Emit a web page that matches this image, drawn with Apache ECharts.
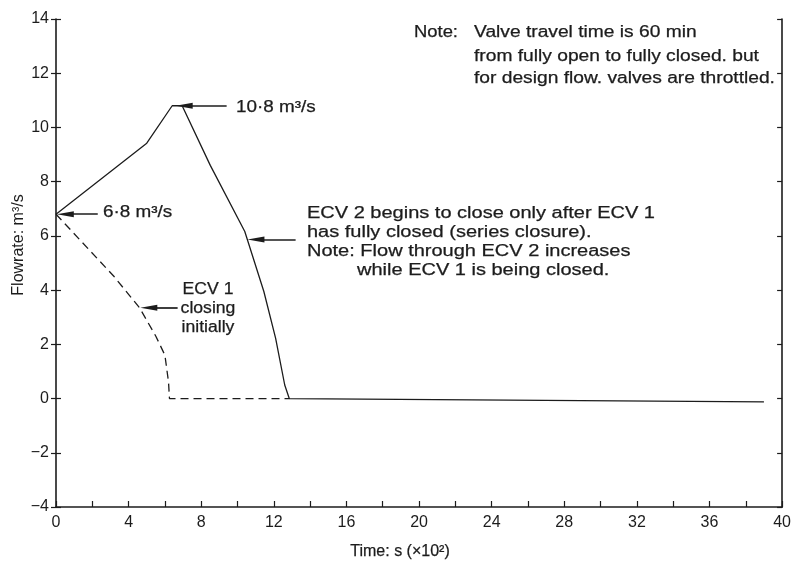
<!DOCTYPE html>
<html>
<head>
<meta charset="utf-8">
<script src="https://cdn.jsdelivr.net/npm/echarts@6/dist/echarts.min.js"></script>
<style>
  html, body { margin: 0; padding: 0; background: #fff; }
  #chart { width: 794px; height: 564px; }
</style>
</head>
<body>
<div id="chart"></div>
<script>
// Flow through ECV 2 (solid) while ECV 1 closes first, then ECV 2 closes
const ecv2Time = [0, 5.0, 6.4, 6.95, 8.5, 10.4, 11.45, 12.1, 12.6, 12.85, 39.0];
const ecv2Flow = [6.8, 9.42, 10.8, 10.8, 8.6, 6.16, 3.95, 2.22, 0.5, 0, -0.12];

// Flow through ECV 1 (dashed) during its closure
const ecv1Time = [0, 3.2, 4.6, 5.5, 6.0, 6.2, 6.25, 12.85];
const ecv1Flow = [6.8, 4.5, 3.35, 2.3, 1.6, 0.6, 0, 0];

// Axis ranges and tick steps
const timeTicks = { min: 0, max: 40, step: 2, labelStep: 4 };
const flowTicks = { min: -4, max: 14, step: 2 };

// Arrow callouts: [tail time, tail flow, tip time, tip flow]
const arrowStart = [2.3, 6.8, 0.05, 6.8];
const arrowPeak = [9.4, 10.8, 6.6, 10.8];
const arrowEcv2 = [13.2, 5.87, 10.55, 5.87];
const arrowEcv1 = [6.7, 3.35, 4.65, 3.35];

const FONT = '"Liberation Sans", Arial, Helvetica, sans-serif';
const INK = '#1c1c1c';

const GRID = { left: 56, right: 4, top: 19, bottom: 57 };
const HEAD_LEN = 17;
// time units covered by half an arrowhead, so the head's point lands on the tip
const halfHead = (HEAD_LEN / 2) * (timeTicks.max - timeTicks.min) / (794 - GRID.left - GRID.right);

const zip = (xs, ys) => xs.map((x, i) => [x, ys[i]]);
const arrow = a => {
  const dir = Math.sign(a[0] - a[2]);
  return [{ coord: [a[0], a[1]] }, { coord: [a[2] + dir * halfHead, a[3]] }];
};
const minus = v => String(v).replace('-', '\u2212');

const chart = echarts.init(document.getElementById('chart'), null, { renderer: 'canvas' });

const yBase = {
  type: 'value', min: flowTicks.min, max: flowTicks.max, interval: flowTicks.step,
  splitLine: { show: false }
};

// Callout arrowheads: long, narrow and filled
const arrowHead = {
  silent: true, symbol: ['none', 'triangle'], symbolSize: [6, HEAD_LEN],
  label: { show: false },
  lineStyle: { color: INK, width: 1.7, type: 'solid' }
};

// Annotation text, drawn slightly wide like the typewritten original
function txt(x, y, text, align, sx) {
  return {
    type: 'text', x: x, y: y, scaleX: sx || 1.18, silent: true,
    style: {
      text: text, x: 0, y: 0, fill: INK, stroke: INK, lineWidth: 0.25,
      font: '16px ' + FONT, textAlign: align || 'left', textVerticalAlign: 'middle'
    }
  };
}

chart.setOption({
  animation: false,
  backgroundColor: '#fff',
  grid: GRID,
  xAxis: {
    type: 'value', min: timeTicks.min, max: timeTicks.max, interval: timeTicks.step,
    axisLine: { show: true, onZero: false, lineStyle: { color: INK, width: 1.7 } },
    axisTick: { show: true, inside: true, length: 6, lineStyle: { color: INK, width: 1.2 } },
    axisLabel: {
      color: INK, fontSize: 16, fontFamily: FONT, margin: 8,
      formatter: v => (v % timeTicks.labelStep === 0 ? String(v) : '')
    },
    splitLine: { show: false }
  },
  yAxis: [
    Object.assign({}, yBase, {
      position: 'left',
      axisLine: { show: true, onZero: false, lineStyle: { color: INK, width: 1.6 } },
      axisTick: { show: true, length: 5, lineStyle: { color: INK, width: 1.2 } },
      axisLabel: { color: INK, fontSize: 16, fontFamily: FONT, margin: 7, formatter: minus }
    }),
    Object.assign({}, yBase, {
      position: 'left',
      axisLine: { show: false },
      axisTick: { show: true, inside: true, length: 5, lineStyle: { color: INK, width: 1.2 } },
      axisLabel: { show: false }
    }),
    Object.assign({}, yBase, {
      position: 'right',
      axisLine: { show: true, onZero: false, lineStyle: { color: INK, width: 1.6 } },
      axisTick: { show: true, inside: true, length: 5, lineStyle: { color: INK, width: 1.2 } },
      axisLabel: { show: false }
    })
  ],
  series: [
    {
      name: 'ECV 2', type: 'line', showSymbol: false, silent: true,
      data: zip(ecv2Time, ecv2Flow),
      lineStyle: { color: INK, width: 1.3 },
      markLine: Object.assign({}, arrowHead, {
        data: [arrow(arrowStart), arrow(arrowPeak), arrow(arrowEcv2)]
      })
    },
    {
      name: 'ECV 1', type: 'line', showSymbol: false, silent: true,
      data: zip(ecv1Time, ecv1Flow),
      lineStyle: { color: INK, width: 1.3, type: [8, 5] },
      markLine: Object.assign({}, arrowHead, { data: [arrow(arrowEcv1)] })
    }
  ],
  graphic: [
    // axis titles
    {
      type: 'text', x: 19, y: 245, rotation: Math.PI / 2, silent: true,
      style: { text: 'Flowrate: m\u00b3/s', fill: INK, font: '16px ' + FONT,
               textAlign: 'center', textVerticalAlign: 'middle' }
    },
    txt(400, 552, 'Time: s (\u00d710\u00b2)', 'center', 1.0),
    // value callouts
    txt(103, 213, '6\u00b78 m\u00b3/s'),
    txt(236, 108, '10\u00b78 m\u00b3/s'),
    // ECV 1 callout
    txt(208, 290, 'ECV 1', 'center', 1.1),
    txt(208, 309, 'closing', 'center', 1.1),
    txt(208, 328, 'initially', 'center', 1.1),
    // ECV 2 callout
    txt(307, 214, 'ECV 2 begins to close only after ECV 1', 'left', 1.25),
    txt(307, 233, 'has fully closed (series closure).', 'left', 1.25),
    txt(307, 252, 'Note: Flow through ECV 2 increases', 'left', 1.25),
    txt(357, 271, 'while ECV 1 is being closed.', 'left', 1.25),
    // valve note
    txt(414, 33, 'Note:', 'left', 1.15),
    txt(474, 33, 'Valve travel time is 60 min', 'left', 1.2),
    txt(474, 57, 'from fully open to fully closed. but', 'left', 1.2),
    txt(474, 79, 'for design flow. valves are throttled.', 'left', 1.2)
  ]
});
</script>
</body>
</html>
